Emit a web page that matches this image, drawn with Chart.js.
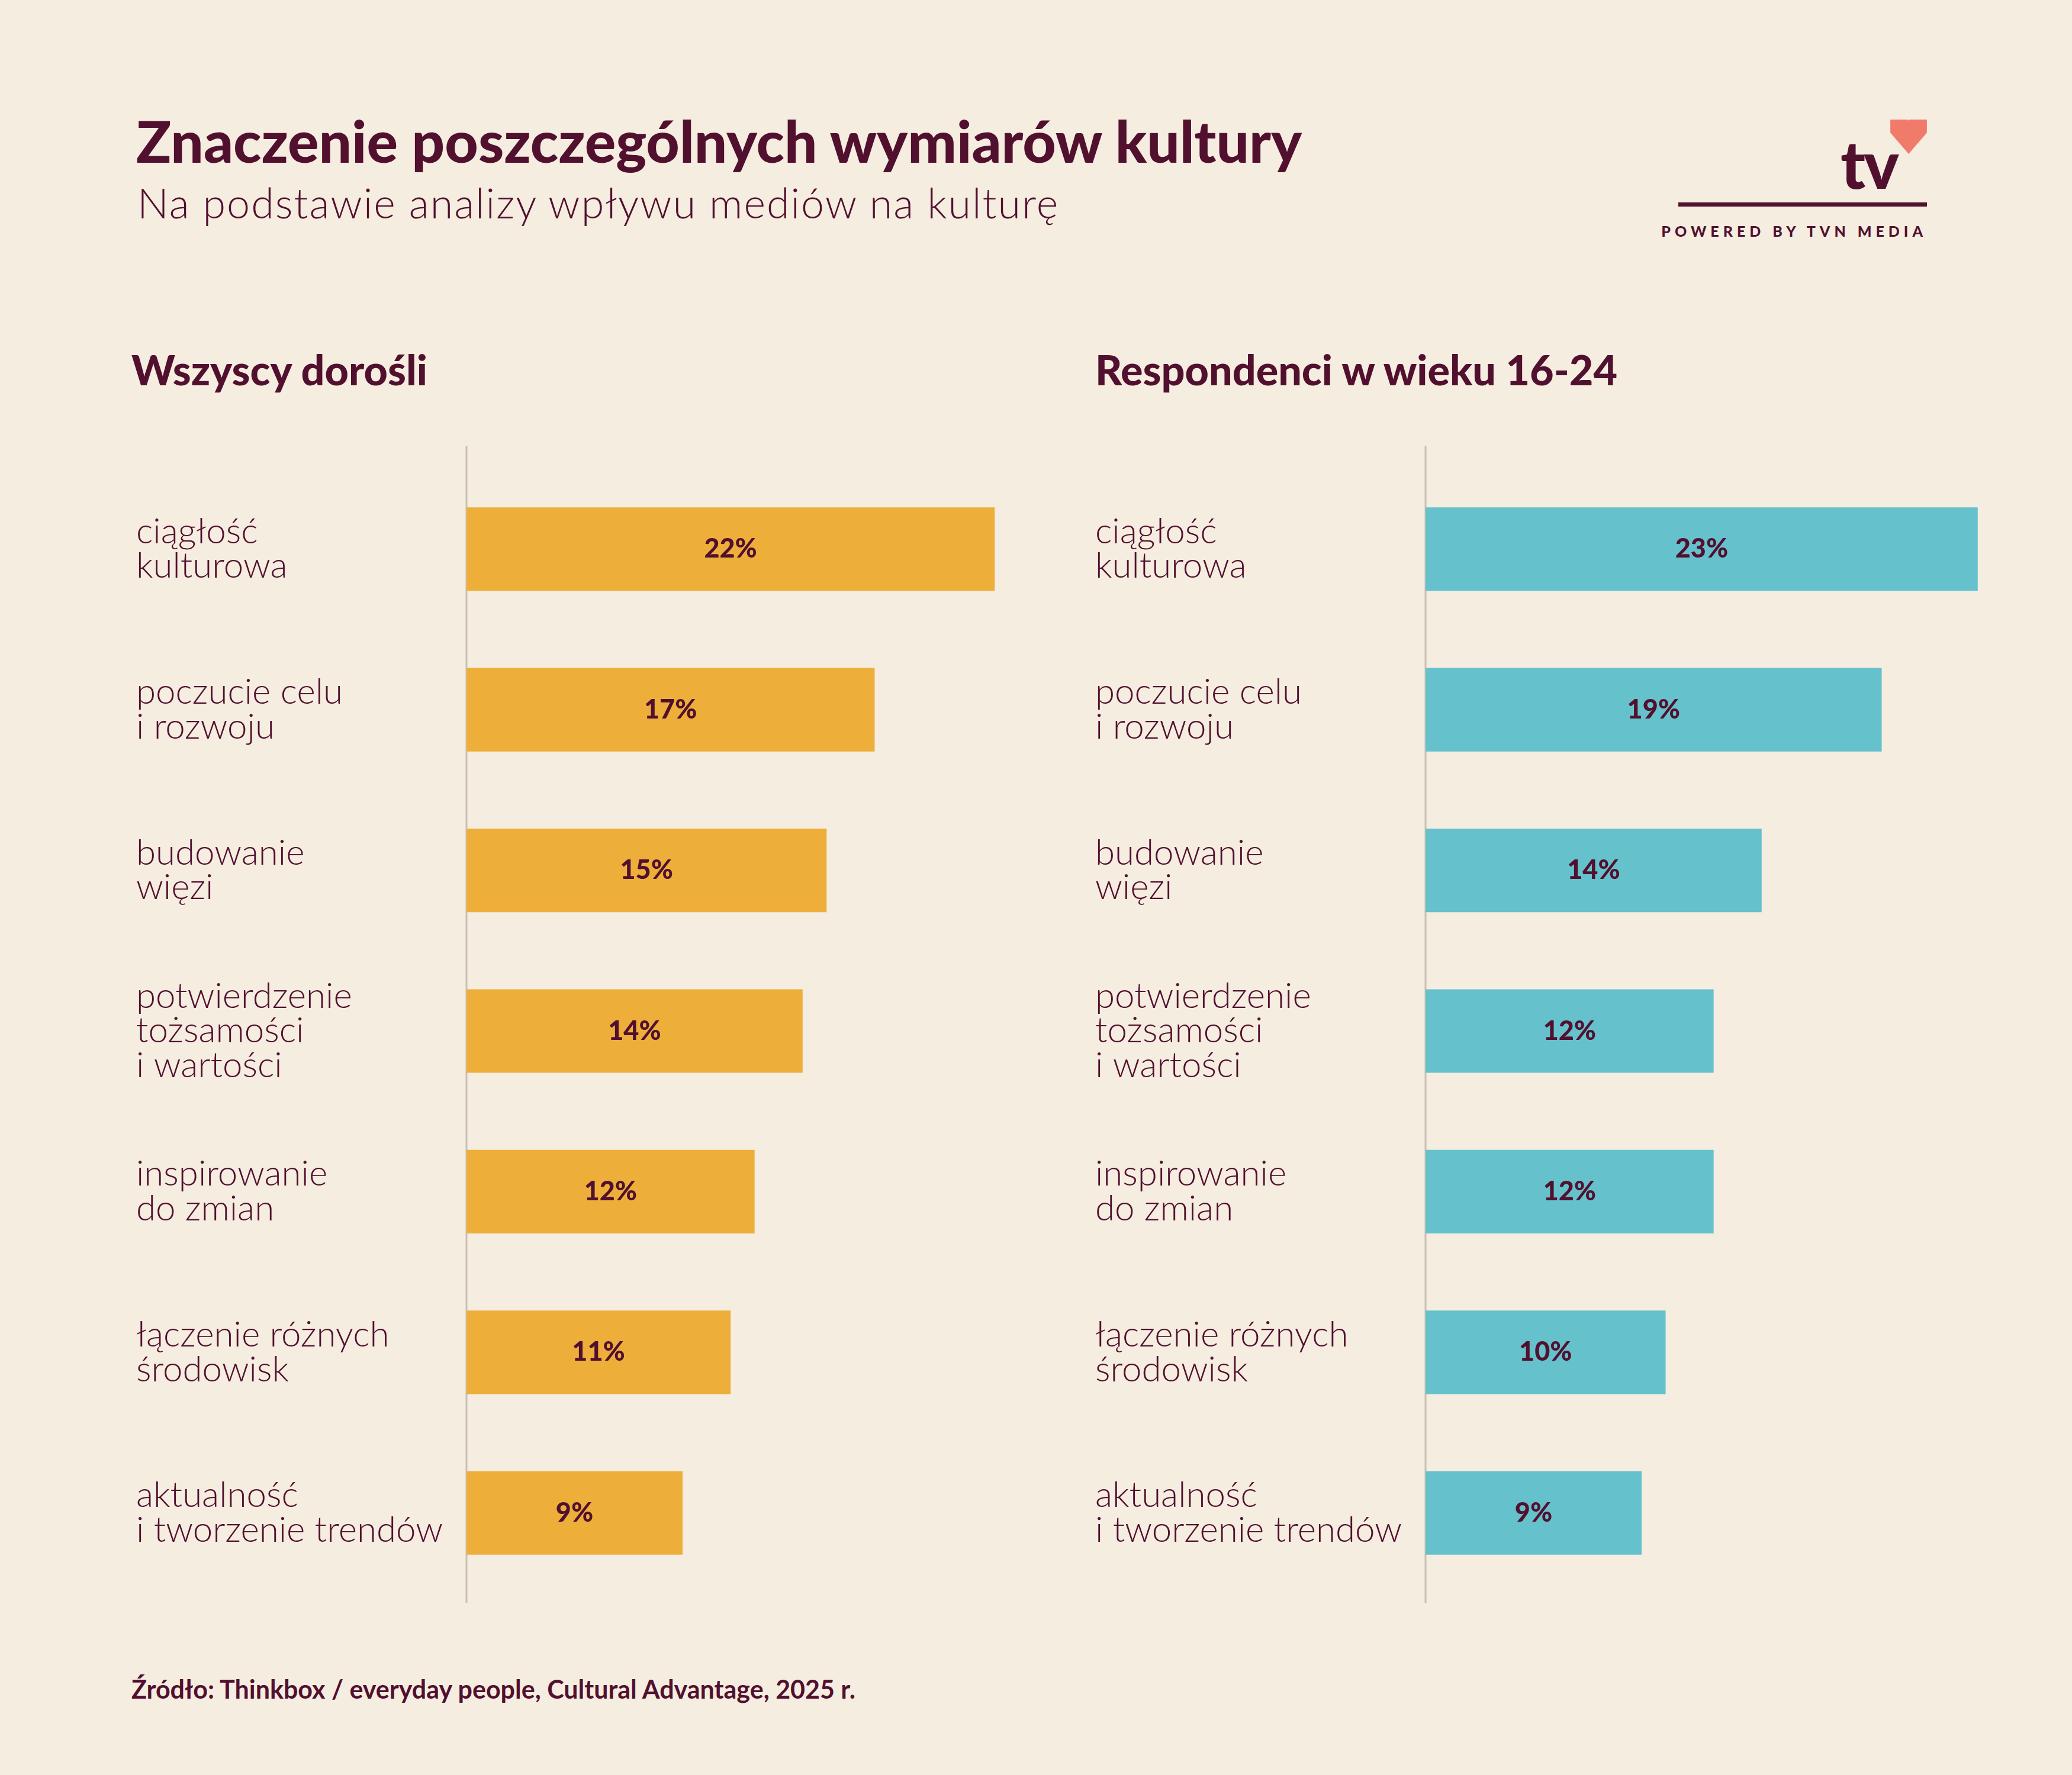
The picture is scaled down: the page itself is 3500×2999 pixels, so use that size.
<!DOCTYPE html>
<html><head><meta charset="utf-8">
<script src="https://cdn.jsdelivr.net/npm/chart.js@4/dist/chart.umd.min.js"></script>
<style>
body{margin:0;width:3500px;height:2999px;background:#f5ede0;font-family:Lato,sans-serif;color:#52102f;position:relative;overflow:hidden}
.abs{position:absolute;white-space:nowrap}
#title{left:230px;top:178px;font-size:98px;font-weight:900}
#sub{left:232px;top:300px;font-size:70px;font-weight:300;letter-spacing:2px}
.ph{top:582px;font-size:70px;font-weight:900}
#foot{left:222px;top:2828px;font-size:43px;font-weight:700}
.wrap{position:absolute;top:754px;width:1580px;height:1954px}
#logo{left:2835px;top:190px;width:420px;height:230px}
</style></head><body>
<div id="title" class="abs">Znaczenie poszczególnych wymiarów kultury</div>
<div id="sub" class="abs">Na podstawie analizy wpływu mediów na kulturę</div>
<div class="abs ph" style="left:222px">Wszyscy dorośli</div>
<div class="abs ph" style="left:1850px">Respondenci w wieku 16-24</div>
<div id="logo" class="abs">
  <div class="abs" style="right:50px;top:18px;font-size:112px;font-weight:900;letter-spacing:-3px">tv</div>
  <svg class="abs" style="right:0;top:12px" width="62" height="58" viewBox="0 0 10 9.4"><path d="M0 0H4.6Q5 0 5 0.4 5 0 5.4 0H10V3.6L5 9.4 0 3.6Z" fill="#f07b6a"/></svg>
  <div class="abs" style="left:0;right:0;top:152px;height:7px;background:#52102f"></div>
  <div class="abs" style="right:0;top:185px;font-size:25px;font-weight:900;letter-spacing:7px">POWERED BY TVN MEDIA</div>
</div>
<div class="wrap" style="left:230px"><canvas id="c1"></canvas></div>
<div class="wrap" style="left:1850px"><canvas id="c2"></canvas></div>
<div id="foot" class="abs">Źródło: Thinkbox / everyday people, Cultural Advantage, 2025 r.</div>
<script>
const categories = [
  ['ciągłość', 'kulturowa'],
  ['poczucie celu', 'i rozwoju'],
  ['budowanie', 'więzi'],
  ['potwierdzenie', 'tożsamości', 'i wartości'],
  ['inspirowanie', 'do zmian'],
  ['łączenie różnych', 'środowisk'],
  ['aktualność', 'i tworzenie trendów']
];
const adults = [22, 17, 15, 14, 12, 11, 9];
const young = [23, 19, 14, 12, 12, 10, 9];
const ink = '#52102f';

const valueLabels = {
  id: 'valueLabels',
  afterDatasetsDraw(chart) {
    const ctx = chart.ctx;
    const meta = chart.getDatasetMeta(0);
    ctx.save();
    ctx.font = '900 45px Lato';
    ctx.fillStyle = ink;
    ctx.textAlign = 'center';
    ctx.textBaseline = 'middle';
    meta.data.forEach((bar, i) => {
      ctx.fillText(chart.data.datasets[0].data[i] + '%', (bar.x + bar.base) / 2, bar.y);
    });
    ctx.restore();
  }
};
const axisLine = {
  id: 'axisLine',
  beforeDatasetsDraw(chart) {
    const ctx = chart.ctx, x = chart.chartArea.left;
    ctx.save();
    ctx.strokeStyle = '#c9bfb4';
    ctx.lineWidth = 3;
    ctx.beginPath();
    ctx.moveTo(x, 0);
    ctx.lineTo(x, chart.height);
    ctx.stroke();
    ctx.restore();
  }
};

function makeChart(id, values, color) {
  new Chart(document.getElementById(id), {
    type: 'bar',
    data: { labels: categories, datasets: [{ data: values, backgroundColor: color, barPercentage: 0.52, categoryPercentage: 1 }] },
    plugins: [valueLabels, axisLine],
    options: {
      indexAxis: 'y',
      responsive: true,
      maintainAspectRatio: false,
      animation: false,
      layout: { padding: { top: 38, bottom: 16 } },
      plugins: { legend: { display: false }, tooltip: { enabled: false } },
      scales: {
        x: { min: 0, max: 25.2, display: false },
        y: {
          grid: { display: false },
          border: { display: false },
          afterFit(s) { s.width = 558; s.paddingTop = 0; s.paddingBottom = 0; },
          ticks: { crossAlign: 'far', color: ink, padding: 0, font: { family: 'Lato', size: 60, weight: 300, lineHeight: 0.98 } }
        }
      }
    }
  });
}
makeChart('c1', adults, '#edaf3a');
makeChart('c2', young, '#65c1cc');
</script>
</body></html>
